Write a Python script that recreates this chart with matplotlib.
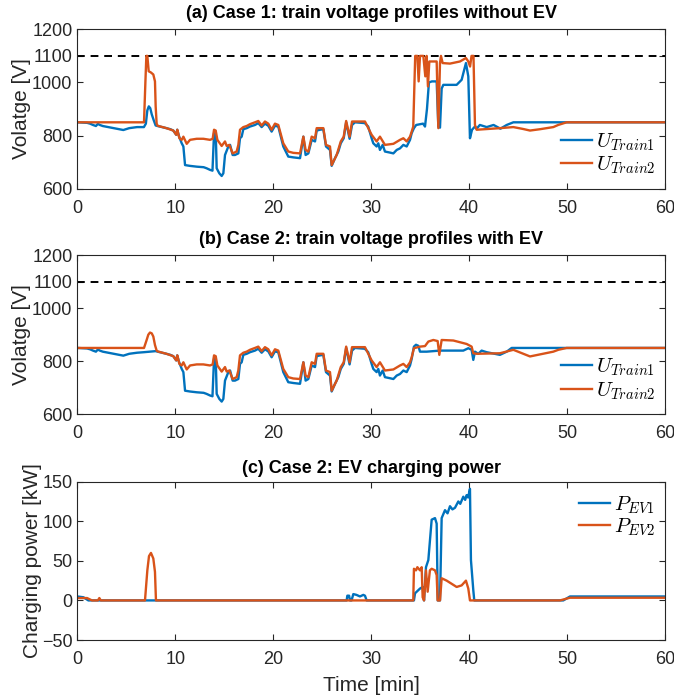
import numpy as np
import matplotlib
matplotlib.use("Agg")
import matplotlib.pyplot as plt

plt.rcParams['font.family'] = ['Liberation Sans', 'DejaVu Sans']
plt.rcParams['mathtext.fontset'] = 'cm'

BLUE = '#0072BD'
RED = '#D95319'
GREY = '#262626'

# ---- train 1 voltage [V] ----
u1_head_c1_t = [0, 1.0, 1.3, 1.6, 1.9, 2.1, 2.3, 2.6, 4.7, 5.3, 6.1, 6.8, 7.0, 7.15, 7.3, 7.45, 7.6, 7.8, 8.0]
u1_head_c1_v = [850, 848, 845, 840, 836, 844, 840, 836, 821, 828, 832, 832, 845, 895, 910, 903, 880, 858, 838]
u1_head_c2_t = [0, 1.0, 1.3, 1.6, 1.9, 2.1, 2.3, 2.6, 4.7, 5.3, 6.1, 6.8, 8.0]
u1_head_c2_v = [850, 848, 845, 840, 836, 844, 840, 836, 821, 828, 832, 834, 838]

u1_mid_t = [8.2, 9.1, 9.5, 9.8, 10.1, 10.2, 10.4, 10.66, 10.83, 11.0, 11.5, 12.2, 12.9, 13.2, 13.55,
            13.8, 13.96, 14.13, 14.23, 14.5, 14.74, 14.91, 15.08, 15.42, 15.6, 15.86, 16.1, 16.44,
            16.61, 16.78, 16.95, 17.3, 17.63, 18.14, 18.48, 18.82, 19.16, 19.5, 19.84, 20.18, 20.52,
            21.03, 21.54, 22.05, 22.74, 23.08, 23.31, 23.59, 23.93, 24.27, 24.44, 24.78, 25.12, 25.39,
            25.8, 25.97, 26.31, 26.65, 26.9, 27.2, 27.45, 27.8, 28.05, 28.35, 29.35, 29.7, 30.05,
            30.22, 30.56, 30.73, 30.9, 31.18, 31.41, 31.92, 32.27, 32.61, 32.95, 33.29, 33.63, 33.97,
            34.14]
u1_mid_v = [836, 828, 824, 819, 803, 822, 796, 771, 759, 689, 686, 683, 681, 677, 671,
            668, 809, 815, 677, 658, 648, 658, 727, 759, 765, 727, 727, 733,
            790, 796, 824, 828, 834, 840, 847, 832, 845, 837, 815, 837, 834,
            759, 721, 718, 715, 796, 727, 733, 784, 778, 819, 822, 824, 759,
            746, 686, 715, 740, 771, 790, 850, 788, 840, 850, 847, 834, 790,
            771, 759, 771, 746, 765, 740, 736, 733, 746, 752, 765, 759, 784,
            809]

u1_tail_c1_t = [34.37, 34.6, 35.3, 35.5, 35.7, 35.9, 36.2, 36.69, 36.86, 37.03, 37.2, 37.37, 38.73,
                39.24, 39.68, 39.92, 40.09, 40.3, 40.6, 40.77, 41.1, 41.8, 42.5, 43.2, 43.84, 44.52, 60]
u1_tail_c1_v = [828, 840, 845, 834, 900, 1000, 1004, 1004, 834, 830, 977, 991, 991,
                1010, 1073, 1023, 790, 822, 834, 826, 840, 832, 840, 826, 840, 850, 850]
u1_tail_c2_t = [34.37, 34.58, 34.82, 34.99, 35.67, 37.03, 39.41, 39.92, 40.26, 40.43, 40.6, 40.94,
                41.28, 41.79, 43.15, 43.84, 44.35, 60]
u1_tail_c2_v = [855, 862, 858, 836, 836, 840, 840, 849, 843, 805, 836, 828,
                840, 834, 824, 836, 850, 850]

# ---- train 2 voltage [V] ----
u2_head_c1_t = [0, 6.81, 6.95, 7.05, 7.15, 7.29, 7.5, 7.76, 7.93, 8.0, 8.1]
u2_head_c1_v = [850, 850, 1000, 1100, 1100, 1042, 1038, 1030, 1004, 910, 845]
u2_head_c2_t = [0, 6.81, 7.08, 7.25, 7.42, 7.6, 7.76, 7.93, 8.1]
u2_head_c2_v = [850, 850, 880, 900, 908, 905, 893, 861, 840]

u2_mid_t = [8.2, 9.1, 9.8, 10.1, 10.21, 10.42, 10.66, 10.83, 11.17, 11.51, 12.19, 12.87, 13.55,
            13.82, 13.96, 14.13, 14.3, 14.74, 15.08, 15.25, 15.52, 15.86, 16.27, 16.44, 16.61,
            16.95, 17.29, 17.63, 18.14, 18.48, 18.82, 19.16, 19.5, 19.84, 20.18, 20.52, 21.03,
            21.54, 22.05, 22.74, 23.08, 23.31, 23.59, 23.93, 24.27, 24.44, 25.12, 25.39, 25.8,
            25.97, 26.48, 26.9, 27.2, 27.45, 27.8, 28.05, 29.37, 30.05, 30.56, 30.9, 31.41, 32.27,
            32.95, 33.29, 33.63, 33.97, 34.14]
u2_mid_v = [837, 828, 819, 803, 822, 790, 784, 796, 769, 784, 788, 788, 784,
            788, 822, 819, 784, 761, 778, 761, 765, 733, 740, 765, 822,
            832, 836, 843, 850, 855, 838, 853, 845, 822, 845, 840, 771,
            740, 735, 733, 796, 746, 740, 796, 790, 828, 828, 765, 759,
            689, 727, 778, 796, 855, 796, 853, 853, 803, 778, 796, 765, 769,
            784, 790, 778, 796, 815]

u2_tail_c1_t = [34.3, 34.5, 34.72, 34.85, 34.99, 35.33, 35.53, 35.67, 35.8, 35.94, 36.69, 36.86,
                37.03, 37.13, 37.3, 38.05, 39.07, 39.68, 39.92, 40.1, 40.25, 40.45, 40.6, 40.77,
                43.15, 44.52, 45.5, 46.22, 47.24, 48.6, 49.1, 49.96, 60]
u2_tail_c1_v = [834, 1100, 1100, 1004, 1100, 1100, 1023, 1100, 985, 1079, 1079, 828,
                1073, 1100, 1073, 1071, 1079, 1092, 1079, 1060, 1100, 1100, 840, 822,
                828, 832, 825, 819, 824, 832, 840, 850, 850]
u2_tail_c2_t = [34.37, 34.99, 35.5, 35.84, 36.35, 36.79, 36.96, 37.2, 38.39, 39.75, 40.26, 40.43,
                40.77, 43.15, 44.52, 46.22, 48.6, 49.11, 49.96, 60]
u2_tail_c2_v = [849, 855, 857, 874, 880, 876, 824, 880, 878, 865, 855, 830,
                828, 830, 843, 818, 836, 843, 850, 850]

# ---- EV charging power [kW] ----
p1_t = [0, 0.62, 1.0, 1.13, 27.5, 27.57, 27.75, 27.84, 28.0, 28.18, 28.5, 28.86, 29.2, 29.37, 29.54,
        34.37, 34.48, 34.99, 35.26, 35.4, 35.6, 35.84, 36.18, 36.52, 36.69, 36.8, 37.03, 37.2,
        37.54, 37.8, 38.05, 38.3, 38.56, 38.9, 39.1, 39.41, 39.6, 39.75, 39.9, 40.09, 40.19,
        40.43, 40.53, 49.62, 50.3, 60]
p1_v = [5, 4, 1, 0, 0, 6, 6, 0, 0, 8, 7, 5, 7, 6, 0,
        0, 9, 15, 17, 0, 42, 51, 102, 104, 97, 0, 0, 104,
        114, 110, 119, 115, 117, 125, 122, 131, 127, 133, 130, 141, 51,
        13, 0, 0, 5, 5]
p2_t = [0, 1.0, 1.5, 2.1, 2.25, 2.4, 6.91, 7.15, 7.32, 7.52, 7.76, 7.93, 8.03,
        34.3, 34.37, 34.58, 34.72, 34.99, 35.16, 35.26, 35.4, 35.6, 35.77, 36.0, 36.18, 36.52,
        36.69, 36.79, 37.03, 37.2, 37.71, 38.22, 38.73, 39.24, 39.68, 39.92, 40.09, 49.28, 50.3, 60]
p2_v = [3, 3, 0, 0, 3, 0, 0, 38, 56, 60, 53, 36, 0,
        0, 40, 38, 42, 38, 42, 4, 0, 38, 11, 38, 40, 38,
        32, 0, 0, 28, 25, 21, 17, 19, 25, 15, 0, 0, 3.4, 3.4]

U_MAX = 1100


def join(*parts):
    t = np.concatenate([np.asarray(p[0], float) for p in parts])
    v = np.concatenate([np.asarray(p[1], float) for p in parts])
    return t, v


def style_axes(ax):
    ax.set_xlim(0, 60)
    ax.set_xticks(np.arange(0, 61, 10))
    ax.tick_params(direction='in', top=True, right=True, length=4, width=0.8,
                   labelsize=13, colors=GREY)
    ax.tick_params(axis='x', pad=8)
    for s in ax.spines.values():
        s.set_color(GREY)
        s.set_linewidth(0.8)


fig = plt.figure(figsize=(6.74, 7.0), dpi=100)
ax_a = fig.add_axes([0.1147, 0.7304, 0.8719, 0.2277])
ax_b = fig.add_axes([0.1147, 0.4081, 0.8719, 0.2276])
ax_c = fig.add_axes([0.1147, 0.0857, 0.8719, 0.2262])

cases = [
    (ax_a, join((u1_head_c1_t, u1_head_c1_v), (u1_mid_t, u1_mid_v), (u1_tail_c1_t, u1_tail_c1_v)),
     join((u2_head_c1_t, u2_head_c1_v), (u2_mid_t, u2_mid_v), (u2_tail_c1_t, u2_tail_c1_v)),
     '(a) Case 1: train voltage profiles without EV'),
    (ax_b, join((u1_head_c2_t, u1_head_c2_v), (u1_mid_t, u1_mid_v), (u1_tail_c2_t, u1_tail_c2_v)),
     join((u2_head_c2_t, u2_head_c2_v), (u2_mid_t, u2_mid_v), (u2_tail_c2_t, u2_tail_c2_v)),
     '(b) Case 2: train voltage profiles with EV'),
]

for ax, (t1, v1), (t2, v2), title in cases:
    ax.axhline(U_MAX, color='k', ls=(0, (4, 3)), lw=1.4)
    l1, = ax.plot(t1, v1, color=BLUE, lw=1.7)
    l2, = ax.plot(t2, v2, color=RED, lw=1.7)
    ax.set_ylim(600, 1200)
    ax.set_yticks([600, 800, 1000, 1100, 1200])
    ax.set_ylabel('Volatge [V]', fontsize=15, color=GREY, labelpad=1)
    ax.set_title(title, fontsize=13, fontweight='bold', pad=8)
    style_axes(ax)
    ax.legend([l1, l2], [r'$U_{Train1}$', r'$U_{Train2}$'], loc='lower right',
              bbox_to_anchor=(1.005, 0.0), frameon=False, fontsize=15,
              handlelength=1.5, handletextpad=0.2, labelspacing=0.1, borderaxespad=0.2)

l1, = ax_c.plot(p1_t, p1_v, color=BLUE, lw=1.7)
l2, = ax_c.plot(p2_t, p2_v, color=RED, lw=1.7)
ax_c.set_ylim(-50, 150)
ax_c.set_yticks([-50, 0, 50, 100, 150])
ax_c.set_ylabel('Charging power [kW]', fontsize=15, color=GREY, labelpad=0)
ax_c.set_xlabel('Time [min]', fontsize=15, color=GREY, labelpad=6)
ax_c.set_title('(c) Case 2: EV charging power', fontsize=13, fontweight='bold', pad=6)
style_axes(ax_c)
ax_c.legend([l1, l2], [r'$P_{EV1}$', r'$P_{EV2}$'], loc='upper right',
            bbox_to_anchor=(1.005, 1.0), frameon=False, fontsize=15,
            handlelength=1.5, handletextpad=0.2, labelspacing=0.05, borderaxespad=0.2)

fig.savefig('out.png', dpi=100)
